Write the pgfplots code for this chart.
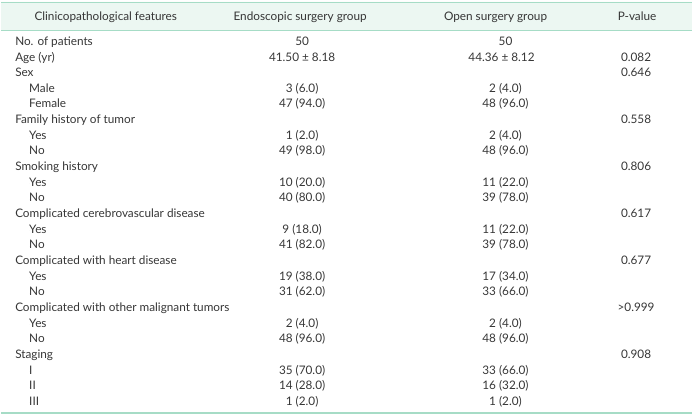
\documentclass[border=0pt]{standalone}
\usepackage{pgfplots}
\pgfplotsset{compat=1.18}
\usepackage{fontspec}
\setmainfont{Lato}
\definecolor{rulec}{HTML}{A6DCC6}
\definecolor{band}{HTML}{ECF7F2}
\definecolor{txt}{HTML}{363636}
\begin{document}
\begin{tikzpicture}
\begin{axis}[
  width=693bp, height=420bp, scale only axis,
  xmin=0, xmax=693, ymin=0, ymax=420, y dir=reverse,
  hide axis, clip=false,
  every node near coord/.append style={font=\fontsize{11.8bp}{14bp}\selectfont, text=txt, inner sep=0pt},
  tabtext/.style={only marks, mark=*, mark size=0pt, mark options={draw=none,fill=none},
     nodes near coords, point meta=explicit symbolic},
]
\addplot[draw=none] coordinates {(0,0) (693,420)};
% header band and rules
\addplot[draw=none, fill=band] coordinates {(0,2) (693,2) (693,30) (0,30) (0,2)};
\addplot[rulec, line width=2bp] coordinates {(0,2.5) (693,2.5)};
\addplot[rulec, line width=0.8bp] coordinates {(0,30) (693,30)};
\addplot[rulec, line width=2.2bp] coordinates {(0,414.5) (693,414.5)};
% header
\addplot[tabtext, nodes near coords style={anchor=mid}] coordinates {
 (105,18) [Clinicopathological features]
 (300,18) [Endoscopic surgery group]
 (496,18) [Open surgery group]
 (638,18) [P-value]
};
% first column, main rows
\addplot[tabtext, nodes near coords style={anchor=mid west}] coordinates {
 (14,43) [No. of patients]
 (14,58.7) [Age (yr)]
 (14,74.4) [Sex]
 (14,121.5) [Family history of tumor]
 (14,168.6) [Smoking history]
 (14,215.7) [Complicated cerebrovascular disease]
 (14,262.8) [Complicated with heart disease]
 (14,309.9) [Complicated with other malignant tumors]
 (14,357) [Staging]
};
% first column, sub rows
\addplot[tabtext, nodes near coords style={anchor=mid west}] coordinates {
 (28,90.1) [Male]
 (28,105.8) [Female]
 (28,137.2) [Yes]
 (28,152.9) [No]
 (28,184.3) [Yes]
 (28,200) [No]
 (28,231.4) [Yes]
 (28,247.1) [No]
 (28,278.5) [Yes]
 (28,294.2) [No]
 (28,325.6) [Yes]
 (28,341.3) [No]
 (28,372.7) [I]
 (28,388.4) [II]
 (28,404.1) [III]
};
% endoscopic surgery group
\addplot[tabtext, nodes near coords style={anchor=mid}] coordinates {
 (302,43) [50]
 (302,58.7) [41.50 ± 8.18]
 (302,90.1) [3 (6.0)]
 (302,105.8) [47 (94.0)]
 (302,137.2) [1 (2.0)]
 (302,152.9) [49 (98.0)]
 (302,184.3) [10 (20.0)]
 (302,200) [40 (80.0)]
 (302,231.4) [9 (18.0)]
 (302,247.1) [41 (82.0)]
 (302,278.5) [19 (38.0)]
 (302,294.2) [31 (62.0)]
 (302,325.6) [2 (4.0)]
 (302,341.3) [48 (96.0)]
 (302,372.7) [35 (70.0)]
 (302,388.4) [14 (28.0)]
 (302,404.1) [1 (2.0)]
};
% open surgery group
\addplot[tabtext, nodes near coords style={anchor=mid}] coordinates {
 (506,43) [50]
 (502,58.7) [44.36 ± 8.12]
 (506,90.1) [2 (4.0)]
 (506,105.8) [48 (96.0)]
 (506,137.2) [2 (4.0)]
 (506,152.9) [48 (96.0)]
 (506,184.3) [11 (22.0)]
 (506,200) [39 (78.0)]
 (506,231.4) [11 (22.0)]
 (506,247.1) [39 (78.0)]
 (506,278.5) [17 (34.0)]
 (506,294.2) [33 (66.0)]
 (506,325.6) [2 (4.0)]
 (506,341.3) [48 (96.0)]
 (506,372.7) [33 (66.0)]
 (506,388.4) [16 (32.0)]
 (506,404.1) [1 (2.0)]
};
% p-values
\addplot[tabtext, nodes near coords style={anchor=mid}] coordinates {
 (637,58.7) [0.082]
 (637,74.4) [0.646]
 (637,121.5) [0.558]
 (637,168.6) [0.806]
 (637,215.7) [0.617]
 (637,262.8) [0.677]
 (637,309.9) [>0.999]
 (637,357) [0.908]
};
\end{axis}
\end{tikzpicture}
\end{document}
